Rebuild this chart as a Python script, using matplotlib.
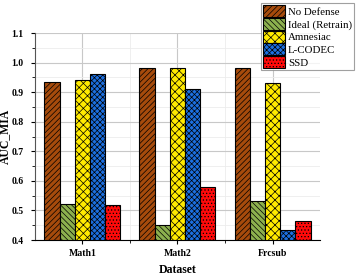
import numpy as np
import matplotlib
matplotlib.use('Agg')
import matplotlib.pyplot as plt
from matplotlib.ticker import MultipleLocator

plt.rcParams['font.family'] = ['Liberation Serif', 'DejaVu Serif']
plt.rcParams['hatch.linewidth'] = 0.5

datasets = ['Math1', 'Math2', 'Frcsub']
methods = ['No Defense', 'Ideal (Retrain)', 'Amnesiac', 'L-CODEC', 'SSD']
no_defense = [0.935, 0.983, 0.983]
ideal = [0.521, 0.450, 0.533]
amnesiac = [0.940, 0.982, 0.932]
lcodec = [0.960, 0.912, 0.434]
ssd = [0.520, 0.580, 0.465]

series = [no_defense, ideal, amnesiac, lcodec, ssd]
colors = ['#A64B0C', '#8CB04E', '#FFEA00', '#1C6FE0', '#FF0A0A']
hatches = ['//////', '\\\\\\\\\\\\', 'xxxx', 'xxxxxx', '.....']

fig = plt.figure(figsize=(3.6, 2.75), dpi=100)
ax = fig.add_axes([0.097, 0.127, 0.792, 0.753])

x = np.arange(1, len(datasets) + 1)
w = 0.16
for i, (vals, c, h, lab) in enumerate(zip(series, colors, hatches, methods)):
    ax.bar(x + (i - 2) * w, np.array(vals) - 0.4, w, bottom=0.4, color=c,
           edgecolor='black', hatch=h, linewidth=0.8, label=lab, zorder=3)

ax.set_xlim(0.5, 3.5)
ax.set_xticks(x)
ax.set_xticklabels(datasets, fontweight='bold')
ax.set_xticks([1.5, 2.5], minor=True)
yt = np.arange(0.4, 1.11, 0.1)
ax.set_yticks(yt)
ax.set_yticklabels(['%.1f' % v for v in yt], fontweight='bold')
ax.yaxis.set_minor_locator(MultipleLocator(0.05))
ax.set_ylim(0.4, 1.1)
ax.grid(which='major', color='#c8c8c8', linewidth=0.8, zorder=0)
ax.grid(which='minor', color='#ececec', linewidth=0.6, zorder=0)
ax.set_axisbelow(True)

for s in ['top', 'right']:
    ax.spines[s].set_visible(False)
ax.spines['left'].set_color('#555555')
ax.tick_params(axis='both', which='both', direction='out', labelsize=7)
ax.tick_params(axis='both', which='major', length=3)
ax.tick_params(axis='y', which='major', pad=5)
ax.tick_params(axis='both', which='minor', length=2)

ax.set_xlabel('Dataset', fontsize=8.5, fontweight='bold')
ax.set_ylabel('AUC_MIA', fontsize=8.5, fontweight='bold')
ax.yaxis.set_label_coords(-0.085, 0.5)

leg = ax.legend(loc='upper right', bbox_to_anchor=(354 / 360, 1 - 3 / 275),
                bbox_transform=fig.transFigure, fontsize=7.8, frameon=True,
                fancybox=False, edgecolor='#888888', handlelength=2.0,
                handleheight=1.35, labelspacing=0.05, borderpad=0.2,
                handletextpad=0.3, borderaxespad=0)
leg.get_frame().set_linewidth(0.8)

fig.savefig('out.png', dpi=100)
